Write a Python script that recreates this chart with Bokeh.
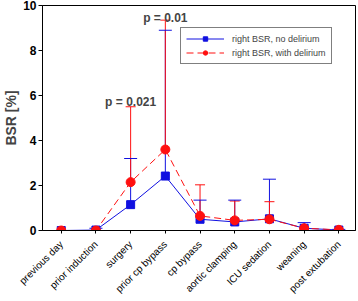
import math
from bokeh.plotting import figure
from bokeh.models import Range1d, FixedTicker, Legend, LegendItem, Label
from bokeh.embed import file_html
from bokeh.resources import INLINE

categories = ["previous day", "prior induction", "surgery", "prior cp bypass", "cp bypass",
              "aortic clamping", "ICU sedation", "weaning", "post extubation"]
no_delirium = [0.0, 0.02, 1.15, 2.42, 0.50, 0.38, 0.52, 0.10, 0.02]
no_delirium_upper = [0.0, 0.10, 3.20, 8.90, 1.35, 1.35, 2.28, 0.35, 0.05]
with_delirium = [0.0, 0.0, 2.15, 3.60, 0.65, 0.45, 0.50, 0.10, 0.03]
with_delirium_upper = [0.0, 0.0, 5.50, 9.35, 2.03, 1.31, 1.28, 0.12, 0.03]
y_ticks = [0, 2, 4, 6, 8, 10]
p_labels = ["p = 0.021", "p = 0.01"]
p_positions = [2, 3]
p_heights = [5.7, 9.45]

x = list(range(len(categories)))
FONT = "Liberation Sans"
BLUE = "#1010e0"
RED = "#ff1010"

p = figure(width=358, height=301, output_backend="svg", toolbar_location=None,
           x_range=Range1d(-0.54, 8.48), y_range=Range1d(0, 10))
p.min_border_left = 37
p.min_border_right = 3
p.min_border_top = 5
p.min_border_bottom = 67
p.outline_line_color = "black"
p.outline_line_width = 1
p.xgrid.visible = False
p.ygrid.visible = False
p.background_fill_color = "white"
p.border_fill_color = "white"

# error bars
p.segment(x, no_delirium, x, no_delirium_upper, line_color=BLUE, line_width=1)
p.segment(x, with_delirium, x, with_delirium_upper, line_color=RED, line_width=1)
p.scatter(x, with_delirium_upper, marker="dash", size=10, line_color=RED, line_width=1)
p.scatter(x, no_delirium_upper, marker="dash", size=13, line_color=BLUE, line_width=1)

l1 = p.line(x, no_delirium, line_color=BLUE, line_width=1)
m1 = p.scatter(x, no_delirium, marker="square", size=8, fill_color=BLUE, line_color=BLUE)
l2 = p.line(x, with_delirium, line_color=RED, line_width=1, line_dash="7 4")
m2 = p.scatter(x, with_delirium, marker="circle", size=9, fill_color=RED, line_color=RED)

for txt, px, py in zip(p_labels, p_positions, p_heights):
    p.add_layout(Label(x=px, y=py, text=txt, text_font=FONT, text_font_size="12px",
                       text_font_style="bold", text_align="center", text_baseline="alphabetic"))

legend = Legend(items=[LegendItem(label="right BSR, no delirium", renderers=[l1, m1]),
                       LegendItem(label="right BSR, with delirium", renderers=[l2, m2])],
                location=(138, 166))
legend.label_text_font = FONT
legend.label_text_font_size = "9px"
legend.label_height = 11
legend.glyph_height = 11
legend.glyph_width = 38
legend.label_standoff = 8
legend.spacing = 3
legend.padding = 5
legend.margin = 0
legend.border_line_color = "black"
legend.border_line_width = 1
legend.background_fill_alpha = 1
p.add_layout(legend, "center")

p.xaxis.ticker = FixedTicker(ticks=x)
p.xaxis.major_label_overrides = {i: c for i, c in enumerate(categories)}
p.xaxis.major_label_orientation = math.pi / 4
p.xaxis.major_label_text_font = FONT
p.xaxis.major_label_text_font_size = "10px"
p.xaxis.major_tick_in = 0
p.xaxis.major_tick_out = 3
p.xaxis.minor_tick_line_color = None
p.xaxis.major_label_standoff = 9

p.yaxis.ticker = FixedTicker(ticks=y_ticks)
p.yaxis.major_label_text_font = FONT
p.yaxis.major_label_text_font_size = "12px"
p.yaxis.major_label_text_font_style = "bold"
p.yaxis.major_tick_in = 0
p.yaxis.major_tick_out = 4
p.yaxis.minor_tick_line_color = None
p.yaxis.major_label_standoff = 2
p.yaxis.axis_label = "BSR [%]"
p.yaxis.axis_label_text_font = FONT
p.yaxis.axis_label_text_font_size = "14px"
p.yaxis.axis_label_text_font_style = "bold"
p.yaxis.axis_label_standoff = 1

for ax in (p.xaxis, p.yaxis):
    ax.axis_line_color = "black"
    ax.major_tick_line_color = "black"
    ax.major_label_text_color = "black"

open("out.html", "w").write(file_html(p, INLINE))
